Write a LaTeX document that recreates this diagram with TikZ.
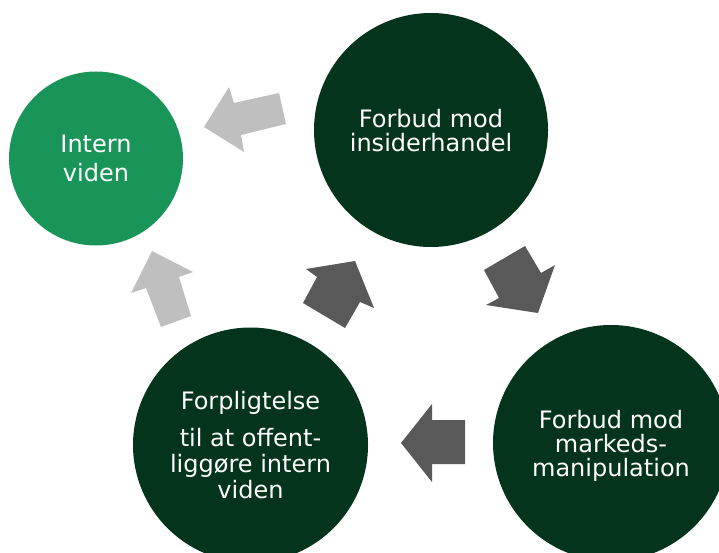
\documentclass[tikz,border=0pt]{standalone}
\usepackage{fontspec}
\setmainfont{DejaVu Sans}
\definecolor{internGreen}{RGB}{26,149,89}
\definecolor{ruleGreen}{RGB}{4,52,28}
\definecolor{lightArrow}{RGB}{191,191,191}
\definecolor{darkArrow}{RGB}{89,89,89}

\begin{document}
\begin{tikzpicture}[x=1pt, y=-1pt,
		topic/.style={circle, fill=ruleGreen, text=white, inner sep=0pt, minimum size=235pt, align=center, text depth=0pt, font=\fontsize{24}{24}\selectfont},
		light/.style={fill=lightArrow},
		dark/.style={fill=darkArrow}]
				\useasboundingbox (0,0) rectangle (719,553);
				\clip (0,0) rectangle (719,553);

				\node[topic, fill=internGreen, minimum size=174pt, font=\fontsize{24}{29}\selectfont] (intern) at (96,158.5) {Intern\\viden};
				\node[topic, minimum size=234pt] (insider) at (431,130) {Forbud mod\\insiderhandel};
				\node[topic, minimum size=236pt] (marked) at (611,443) {Forbud mod\\markeds-\\manipulation};
				\node[topic, font=\fontsize{24}{26}\selectfont] (pligt) at (250.5,445) {Forpligtelse\\[11pt]til at offent-\\liggøre intern\\viden};

				% block arrows round the cycle
				\fill[light] (204,127) -- (229,87) -- (234,103) -- (279,93) -- (286,124) -- (241,135) -- (244,152) -- cycle;
				\fill[dark] (484,270) -- (525,246) -- (541,273) -- (555,265) -- (538,313) -- (486,305) -- (499,298) -- cycle;
				\fill[dark] (401,443) -- (432,404) -- (432,420) -- (465,420) -- (465,464) -- (432,464) -- (432,482) -- cycle;
				\fill[dark] (355,261) -- (306,269) -- (317,277) -- (303,303) -- (345,328) -- (360,302) -- (374,308) -- cycle;
				\fill[light] (152,251) -- (193,272) -- (179,277) -- (191,316) -- (161,327) -- (146,288) -- (131,293) -- cycle;
			\end{tikzpicture}
\end{document}
